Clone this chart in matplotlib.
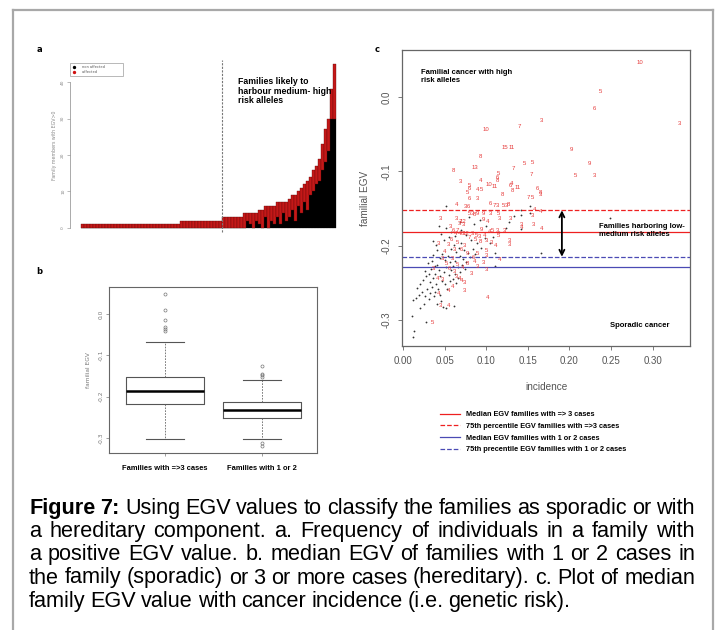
import matplotlib
matplotlib.use('Agg')
import matplotlib.pyplot as plt
from matplotlib.lines import Line2D
import numpy as np

# fonts
NARROW = ['Liberation Sans Narrow', 'Liberation Sans', 'DejaVu Sans']
ARIAL = ['Liberation Sans', 'DejaVu Sans']

# ---- panel a: family members with EGV>0 (sorted families) ----
family_total = [1, 1, 1, 1, 1, 1, 1, 1, 1, 1, 1, 1, 1, 1, 1, 1, 1, 1, 1, 1, 1, 1, 1, 1, 1, 1, 1, 1, 1, 1, 1, 1, 1,
                2, 2, 2, 2, 2, 2, 2, 2, 2, 2, 2, 2, 2, 2,
                3, 3, 3, 3, 3, 3, 3,
                4, 4, 4, 4, 4,
                5, 5, 6, 6, 6, 6,
                7, 7, 7, 7,
                8, 9, 9,
                10, 11,
                12, 13, 14,
                16, 17,
                19, 23, 27, 30, 38, 45]
family_non_affected = [0, 0, 0, 0, 0, 0, 0, 0, 0, 0, 0, 0, 0, 0, 0, 0, 0, 0, 0, 0, 0, 0, 0, 0, 0, 0, 0, 0, 0, 0, 0, 0, 0,
                       0, 0, 0, 0, 0, 0, 0, 0, 0, 0, 0, 0, 0, 0,
                       0, 0, 0, 0, 0, 0, 0,
                       0, 2, 1, 0, 2,
                       1, 0, 3, 0, 2, 1,
                       3, 1, 4, 2,
                       3, 5, 2,
                       6, 4,
                       7, 5, 9,
                       10, 12,
                       13, 16, 18, 21, 30, 30]

# ---- panel b: box plot stats of median family EGV ----
box_labels = ['Families with =>3 cases', 'Families with 1 or 2']
box_q1 = [-0.217, -0.252]
box_med = [-0.186, -0.233]
box_q3 = [-0.152, -0.212]
box_wlo = [-0.302, -0.302]
box_whi = [-0.068, -0.160]
box_fliers = [[0.048, 0.010, -0.014, -0.031, -0.036, -0.041],
              [-0.126, -0.145, -0.148, -0.152, -0.312, -0.320]]

# ---- panel c: incidence vs familial EGV ----
# families with 1 or 2 cases (black dots)
few_inc = [0.012, 0.013, 0.011, 0.028, 0.012, 0.016, 0.019, 0.021, 0.025, 0.017, 0.020, 0.023, 0.026, 0.029,
           0.031, 0.024, 0.028, 0.032, 0.035, 0.033, 0.037, 0.027, 0.031, 0.034, 0.036, 0.039, 0.040, 0.042,
           0.038, 0.044, 0.046, 0.041, 0.048, 0.052, 0.061, 0.030, 0.035, 0.038, 0.041, 0.043, 0.045, 0.047,
           0.050, 0.053, 0.049, 0.052, 0.055, 0.057, 0.060, 0.058, 0.062, 0.064, 0.066, 0.044, 0.047, 0.041,
           0.036, 0.051, 0.054, 0.057, 0.060, 0.063, 0.066, 0.069, 0.071, 0.074, 0.068, 0.072, 0.076, 0.058,
           0.061, 0.064, 0.067, 0.070, 0.073, 0.078, 0.081, 0.084, 0.087, 0.049, 0.055, 0.046, 0.036, 0.040,
           0.043, 0.052, 0.058, 0.063, 0.070, 0.076, 0.082, 0.089, 0.094, 0.098, 0.104, 0.111, 0.111, 0.108,
           0.116, 0.124, 0.142, 0.142, 0.128, 0.133, 0.052, 0.142, 0.153, 0.153, 0.166, 0.249, 0.092, 0.085,
           0.100, 0.079, 0.068]
few_egv = [-0.323, -0.315, -0.295, -0.303, -0.273, -0.270, -0.266, -0.284, -0.278, -0.257, -0.252, -0.262,
           -0.268, -0.258, -0.272, -0.246, -0.241, -0.249, -0.256, -0.264, -0.268, -0.234, -0.238, -0.232,
           -0.244, -0.238, -0.251, -0.258, -0.262, -0.266, -0.274, -0.279, -0.282, -0.284, -0.281, -0.224,
           -0.221, -0.228, -0.226, -0.233, -0.241, -0.247, -0.252, -0.258, -0.236, -0.229, -0.240, -0.248,
           -0.245, -0.233, -0.238, -0.250, -0.244, -0.216, -0.211, -0.206, -0.212, -0.219, -0.214, -0.222,
           -0.227, -0.221, -0.229, -0.236, -0.226, -0.232, -0.214, -0.218, -0.222, -0.205, -0.199, -0.208,
           -0.203, -0.196, -0.206, -0.210, -0.215, -0.205, -0.211, -0.193, -0.188, -0.184, -0.194, -0.199,
           -0.174, -0.176, -0.182, -0.187, -0.179, -0.186, -0.192, -0.196, -0.203, -0.190, -0.197, -0.210,
           -0.228, -0.188, -0.182, -0.176, -0.159, -0.178, -0.168, -0.160, -0.147, -0.152, -0.147, -0.156,
           -0.210, -0.163, -0.166, -0.171, -0.174, -0.162, -0.168]

# families with 3 or more cases (red numbers = number of cases)
many_inc = [0.285, 0.237, 0.230, 0.332, 0.166, 0.140, 0.100, 0.122, 0.131, 0.203, 0.093, 0.224, 0.146, 0.155,
            0.061, 0.086, 0.133, 0.207, 0.230, 0.154, 0.069, 0.093, 0.115, 0.114, 0.114, 0.103, 0.110, 0.080,
            0.080, 0.090, 0.094, 0.129, 0.131, 0.131, 0.138, 0.077, 0.119, 0.162, 0.165, 0.165, 0.151, 0.155,
            0.080, 0.090, 0.064, 0.105, 0.110, 0.113, 0.121, 0.124, 0.127, 0.075, 0.079, 0.158, 0.165,
            0.0445, 0.0637, 0.080, 0.083, 0.086, 0.089, 0.097, 0.105, 0.115, 0.097, 0.116, 0.129, 0.156,
            0.142, 0.142, 0.157, 0.166, 0.0685, 0.072, 0.101, 0.0565, 0.061, 0.065, 0.0685, 0.073, 0.0637,
            0.0685, 0.072, 0.076, 0.084, 0.0885, 0.0925, 0.104, 0.108, 0.114, 0.122, 0.0425, 0.0545, 0.058,
            0.0493, 0.062, 0.0866, 0.080, 0.093, 0.100, 0.115, 0.1285, 0.1285, 0.1005, 0.1005, 0.1166, 0.097,
            0.078, 0.070, 0.066, 0.074, 0.0365, 0.042, 0.048, 0.062, 0.064, 0.068, 0.070, 0.0998, 0.0745,
            0.086, 0.090, 0.082, 0.055, 0.059, 0.0741, 0.0425, 0.101, 0.0453, 0.0545, 0.0357, 0.052, 0.056,
            0.059, 0.048, 0.066, 0.072, 0.078, 0.084, 0.090, 0.094, 0.098, 0.106, 0.111]
many_egv = [0.047, 0.007, -0.015, -0.035, -0.032, -0.040, -0.044, -0.068, -0.068, -0.071, -0.080, -0.089,
            -0.090, -0.088, -0.099, -0.095, -0.096, -0.105, -0.105, -0.104, -0.114, -0.113, -0.103, -0.108,
            -0.112, -0.118, -0.120, -0.119, -0.123, -0.124, -0.124, -0.119, -0.117, -0.126, -0.122, -0.128,
            -0.131, -0.123, -0.128, -0.131, -0.135, -0.135, -0.136, -0.137, -0.145, -0.143, -0.146, -0.146,
            -0.146, -0.146, -0.145, -0.148, -0.148, -0.151, -0.154,
            -0.164, -0.164, -0.157, -0.157, -0.158, -0.157, -0.157, -0.157, -0.157, -0.165, -0.164, -0.164,
            -0.159, -0.176, -0.172, -0.171, -0.177, -0.168, -0.168, -0.168, -0.1745, -0.179, -0.179, -0.170,
            -0.171, -0.1835, -0.1835, -0.1835, -0.1835, -0.1835, -0.186, -0.188, -0.181, -0.179, -0.179,
            -0.179, -0.197, -0.199, -0.192, -0.208, -0.205, -0.192, -0.189, -0.195, -0.193, -0.187, -0.193,
            -0.198, -0.207, -0.213, -0.2185, -0.223, -0.211, -0.205, -0.196, -0.200, -0.2306, -0.244, -0.246,
            -0.235, -0.242, -0.244, -0.247, -0.232, -0.249, -0.222, -0.228, -0.238, -0.260, -0.255, -0.260,
            -0.264, -0.2696, -0.280, -0.281, -0.3037, -0.224, -0.231, -0.218, -0.218, -0.225, -0.230, -0.224,
            -0.216, -0.210, -0.178, -0.186, -0.196, -0.200]
many_cases = [10, 5, 6, 3, 3, 7, 10, 15, 11, 9, 8, 9, 5, 5,
              8, 13, 7, 5, 3, 7, 3, 4, 5, 6, 8, 10, 11, 5,
              6, 4, 5, 6, 4, 8, 11, 5, 8, 6, 8, 3, 7, 5,
              6, 3, 4, 6, 7, 3, 5, 3, 8, 3, 6, 4, 4,
              3, 3, 5, 3, 8, 9, 9, 3, 5, 9, 3, 3, 3,
              4, 3, 3, 4, 7, 12, 4, 3, 6, 7, 3, 3, 4,
              4, 8, 12, 3, 5, 3, 4, 5, 3, 3, 3, 3, 6,
              4, 3, 5, 7, 8, 3, 5, 3, 3, 5, 3, 4, 3,
              9, 6, 5, 3, 3, 4, 3, 3, 3, 4, 4, 3, 3,
              4, 3, 3, 4, 4, 3, 4, 4, 3, 4, 5, 5, 6,
              3, 3, 5, 4, 8, 6, 5, 9, 4, 3, 4]

# reference lines: median / 75th percentile EGV
ref_values = [-0.181, -0.1525, -0.229, -0.215]
ref_colors = ['#ee2020', '#ee2020', '#4a4ab4', '#4a4ab4']
ref_styles = ['-', '--', '-', '--']
ref_labels = ['Median EGV families with => 3 cases',
              '75th percentile EGV families with =>3 cases',
              'Median EGV families with 1 or 2 cases',
              '75th precentile EGV families with 1 or 2 cases']
arrow_inc = 0.191

caption_lines = ['Figure 7: Using EGV values to classify the families as sporadic or with',
                 'a hereditary component. a. Frequency of individuals in a family with',
                 'a positive EGV value. b. median EGV of families with 1 or 2 cases in',
                 'the family (sporadic) or 3 or more cases (hereditary). c. Plot of median',
                 'family EGV value with cancer incidence (i.e. genetic risk).']

W, H = 720, 630
fig = plt.figure(figsize=(7.2, 6.3), dpi=100)
fig.patch.set_facecolor('white')


def px_axes(x0, y0, x1, y1):
    return fig.add_axes([x0 / W, 1 - y1 / H, (x1 - x0) / W, (y1 - y0) / H])


# outer frame
for xs, ys in [([13, 13], [10, 630]), ([13, 713], [10, 10]), ([713, 713], [10, 630])]:
    fig.add_artist(Line2D([x / W for x in xs], [1 - y / H for y in ys], color='#a8a8a8', lw=1.6))

# ---------------- panel a ----------------
ax = px_axes(70, 55, 345, 235)
idx = np.arange(len(family_total))
non_aff = np.array(family_non_affected)
aff = np.array(family_total) - non_aff
ax.bar(idx, non_aff, width=1.0, color='black', edgecolor='black', linewidth=0.2)
ax.bar(idx, aff, width=1.0, bottom=non_aff, color='#c41818', edgecolor='#5e0808', linewidth=0.25)
ax.set_xlim(-4.17, 87.5)
ax.set_ylim(-1.92, 47.4)
split = sum(1 for t in family_total if t <= 2) - 0.5
ax.vlines(split, -1.1, 46, colors='#777777', linestyles=(0, (2, 1.2)), lw=0.8)
for s in ['top', 'right', 'bottom']:
    ax.spines[s].set_visible(False)
ax.spines['left'].set_bounds(0, 40)
ax.spines['left'].set_color('#888888')
ax.spines['left'].set_linewidth(0.5)
ax.set_xticks([])
ax.set_yticks([0, 10, 20, 30, 40])
ax.tick_params(axis='y', length=2, width=0.4, color='#888888', labelsize=3.2, labelcolor='#888888', pad=1.5)
for lab in ax.get_yticklabels():
    lab.set_rotation(90)
    lab.set_va('center')
ax.set_ylabel('Family members with EGV>0', fontsize=3.4, color='#888888', labelpad=3)
ax.text(0.612, 0.875, 'Families likely to\nharbour medium- high\nrisk alleles', transform=ax.transAxes,
        family=NARROW, fontweight='bold', fontsize=6.3, va='top', ha='left', linespacing=1.05)
leg_h = [Line2D([], [], ls='', marker='o', ms=1.4, color='black'),
         Line2D([], [], ls='', marker='o', ms=1.4, color='#d01010')]
lg = ax.legend(leg_h, ['non affected', 'affected'], loc='upper left', bbox_to_anchor=(0.0, 0.956),
               fontsize=2.6, frameon=True, fancybox=False, borderpad=0.6, handlelength=1.2,
               handletextpad=1.5, labelspacing=0.3, borderaxespad=0)
lg.get_frame().set_edgecolor('#999999')
lg.get_frame().set_linewidth(0.6)
for t in lg.get_texts():
    t.set_color('#555555')
    t.set_text(t.get_text() + ' ' * 14)
fig.text(39 / W, 1 - 49 / H, 'a', fontsize=6, fontweight='bold', ha='center', va='center')

# ---------------- panel b ----------------
bx = px_axes(109, 287, 317, 453)
stats = []
for i in range(2):
    stats.append(dict(med=box_med[i], q1=box_q1[i], q3=box_q3[i], whislo=box_wlo[i],
                      whishi=box_whi[i], fliers=box_fliers[i], label=box_labels[i]))
bx.bxp(stats, positions=[1, 2], widths=0.8,
       boxprops=dict(color='#555555', lw=0.8),
       medianprops=dict(color='black', lw=1.8),
       whiskerprops=dict(color='#666666', lw=0.6, ls=(0, (2, 1.5))),
       capprops=dict(color='#555555', lw=0.8),
       flierprops=dict(marker='o', ms=2.2, mfc='none', mec='#777777', mew=0.5))
bx.set_xlim(0.42, 2.57)
bx.set_ylim(-0.336, 0.065)
for s in bx.spines.values():
    s.set_color('#666666')
    s.set_linewidth(0.8)
bx.set_yticks([-0.3, -0.2, -0.1, 0.0])
bx.set_yticklabels(['-0.3', '-0.2', '-0.1', '0.0'])
bx.tick_params(axis='y', length=2.5, width=0.5, color='#777777', labelsize=4.2, labelcolor='#777777', pad=1.5)
for lab in bx.get_yticklabels():
    lab.set_rotation(90)
    lab.set_va('center')
bx.tick_params(axis='x', length=2.5, width=0.5, color='#777777', pad=6)
for lab in bx.get_xticklabels():
    lab.set_family(NARROW)
    lab.set_fontweight('bold')
    lab.set_fontsize(5.4)
bx.set_ylabel('familial EGV', fontsize=4.2, color='#777777', labelpad=5)
fig.text(39 / W, 1 - 272 / H, 'b', fontsize=6, fontweight='bold', ha='center', va='center')

# ---------------- panel c ----------------
cx = px_axes(402, 50, 690, 346)
cx.plot(few_inc, few_egv, ls='', marker='o', ms=1.3, color='#333333', mew=0)
for xi, yi, n in zip(many_inc, many_egv, many_cases):
    cx.text(xi, yi, str(n), color='#e63c3c', fontsize=4.3, ha='center', va='center', family=ARIAL)
for v, c, st, lb in zip(ref_values, ref_colors, ref_styles, ref_labels):
    cx.axhline(v, color=c, ls=st, lw=0.9, label=lb)
cx.annotate('', xy=(arrow_inc, ref_values[1]), xytext=(arrow_inc, ref_values[3]),
            arrowprops=dict(arrowstyle='<->', lw=1.3, color='black', mutation_scale=9, shrinkA=0, shrinkB=0))
cx.set_xlim(-0.0012, 0.345)
cx.set_ylim(-0.3351, 0.0633)
for s in cx.spines.values():
    s.set_color('#666666')
    s.set_linewidth(0.9)
cx.set_xticks([0.0, 0.05, 0.10, 0.15, 0.20, 0.25, 0.30])
cx.set_xticklabels(['0.00', '0.05', '0.10', '0.15', '0.20', '0.25', '0.30'])
cx.set_yticks([-0.3, -0.2, -0.1, 0.0])
cx.set_yticklabels(['-0.3', '-0.2', '-0.1', '0.0'])
cx.tick_params(length=3, width=0.6, color='#666666', labelsize=7, labelcolor='#555555', pad=4.5)
for lab in cx.get_yticklabels():
    lab.set_rotation(90)
    lab.set_va('center')
for lab in cx.get_xticklabels() + cx.get_yticklabels():
    lab.set_family(ARIAL)
cx.set_xlabel('incidence', fontsize=7.2, color='#555555', family=ARIAL, labelpad=11)
cx.set_ylabel('familial EGV', fontsize=7.2, color='#555555', family=ARIAL, labelpad=8)
cx.text(0.066, 0.935, 'Familial cancer with high\nrisk alleles', transform=cx.transAxes,
        family=NARROW, fontweight='bold', fontsize=5.5, va='top', ha='left', linespacing=1.1)
cx.text(0.684, 0.415, 'Families harboring low-\nmedium risk alleles', transform=cx.transAxes,
        family=NARROW, fontweight='bold', fontsize=5.5, va='top', ha='left', linespacing=1.1)
cx.text(0.722, 0.068, 'Sporadic cancer', transform=cx.transAxes,
        family=NARROW, fontweight='bold', fontsize=5.5, va='center', ha='left')
handles, labels = cx.get_legend_handles_labels()
fig.legend(handles, labels, loc='upper left', bbox_to_anchor=(440 / W, 1 - 411 / H),
           frameon=False, prop=dict(family=NARROW, weight='bold', size=5.3),
           handlelength=2.7, handletextpad=0.8, labelspacing=0.62, borderpad=0, borderaxespad=0)
fig.text(377 / W, 1 - 49 / H, 'c', fontsize=6, fontweight='bold', ha='center', va='center')

# ---------------- caption (justified) ----------------
renderer = fig.canvas.get_renderer()
cap_left, cap_right = 29, 695
cap_base = [514, 537, 560, 583.5, 607]
cap_size = 15.6
for i, line in enumerate(caption_lines):
    words = line.split(' ')
    texts = []
    for j, w in enumerate(words):
        bold = (i == 0 and j < 2)
        texts.append(fig.text(0, 1 - cap_base[i] / H, w, fontsize=cap_size, family=NARROW,
                              fontweight='bold' if bold else 'normal', va='baseline', ha='left'))
    widths = [t.get_window_extent(renderer).width for t in texts]
    if i < len(caption_lines) - 1:
        gap = (cap_right - cap_left - sum(widths)) / (len(words) - 1)
    else:
        gap = cap_size * 100 / 72 * 0.23
    x = cap_left
    for t, wd in zip(texts, widths):
        t.set_x(x / W)
        x += wd + gap

fig.savefig('out.png', dpi=100, facecolor='white')
